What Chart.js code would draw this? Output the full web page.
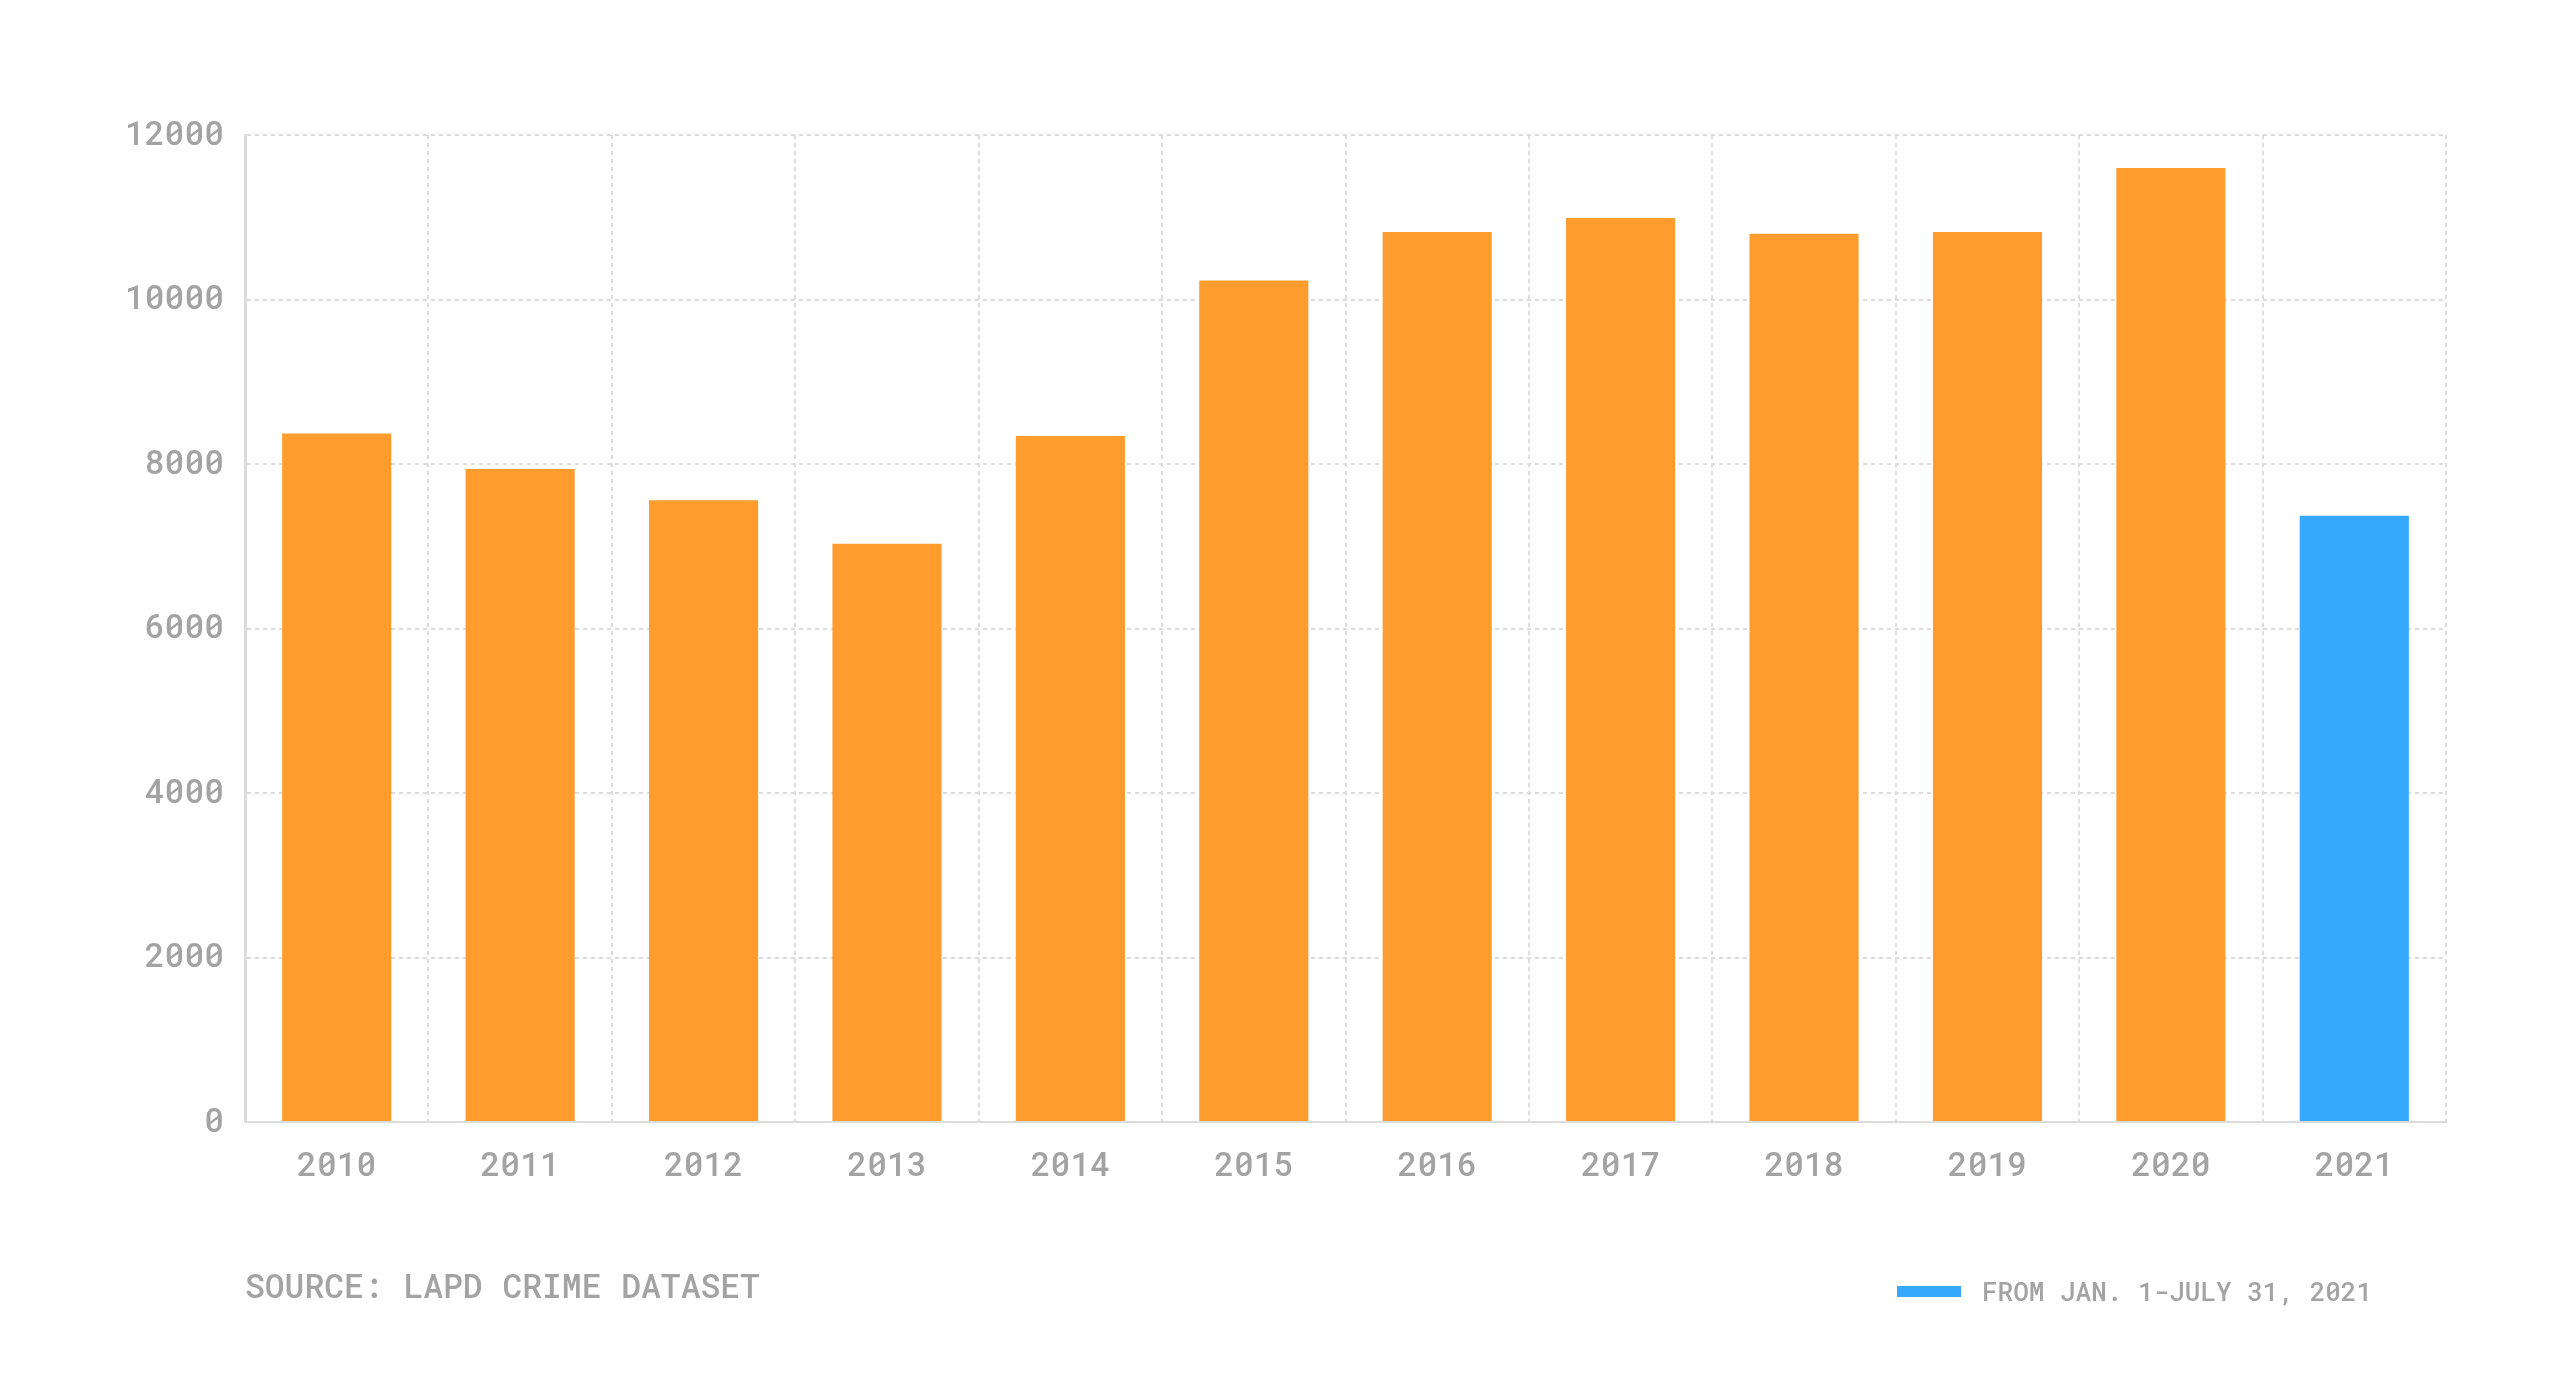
<!DOCTYPE html>
<html>
<head>
<meta charset="utf-8">
<title>LAPD crimes by year</title>
<script src="https://cdn.jsdelivr.net/npm/chart.js@4.4.0/dist/chart.umd.min.js"></script>
<style>
  html, body { margin: 0; padding: 0; background: #fff; }
  #wrap { position: relative; width: 2560px; height: 1393px; }
  .note {
    position: absolute;
    font-family: "Roboto Mono", "DejaVu Sans Mono", monospace;
    font-weight: 500;
    color: #a3a3a3;
    white-space: nowrap;
  }
  #source { left: 245px; top: 1263px; font-size: 33px; }
  #legend { left: 1897px; top: 1274px; font-size: 26px; display: flex; align-items: center; }
  #legend span.box { display: inline-block; width: 64px; height: 11px; background: #36a9fe; margin-right: 21px; }
</style>
</head>
<body>
<div id="wrap">
  <canvas id="chart"></canvas>
  <div class="note" id="source">SOURCE: LAPD CRIME DATASET</div>
  <div class="note" id="legend"><span class="box"></span>FROM JAN. 1-JULY 31, 2021</div>
</div>
<script>
const years = ["2010", "2011", "2012", "2013", "2014", "2015", "2016", "2017", "2018", "2019", "2020", "2021"];
const counts = [8370, 7940, 7560, 7030, 8340, 10230, 10820, 10990, 10800, 10820, 11600, 7370];
const barColors = ["#fe9c2e", "#fe9c2e", "#fe9c2e", "#fe9c2e", "#fe9c2e", "#fe9c2e",
  "#fe9c2e", "#fe9c2e", "#fe9c2e", "#fe9c2e", "#fe9c2e", "#36a9fe"];
const yMax = 12000;
const yStep = 2000;

const fontFamily = "'Roboto Mono', 'DejaVu Sans Mono', monospace";
const gridColor = "#dcdcdc";
const textColor = "#a3a3a3";

const ctx = document.getElementById("chart").getContext("2d");
new Chart(ctx, {
  type: "bar",
  data: {
    labels: years,
    datasets: [
      {
        label: "Crimes",
        data: counts,
        backgroundColor: barColors,
        barPercentage: 0.595,
        categoryPercentage: 1,
      },
    ],
  },
  options: {
    responsive: true,
    maintainAspectRatio: false,
    animation: false,
    layout: {
      padding: { left: 0, right: 114, top: 135, bottom: 211 },
    },
    plugins: {
      legend: { display: false },
      tooltip: { enabled: false },
    },
    scales: {
      x: {
        afterFit: (s) => { s.height = 60; },
        grid: { color: gridColor, lineWidth: 2, drawTicks: false },
        // in v4 border.dash styles the grid lines, the axis line stays solid
        border: { display: true, color: gridColor, width: 2, dash: [4, 4] },
        ticks: {
          color: textColor,
          padding: 24,
          font: { family: fontFamily, size: 33, weight: "500" },
        },
      },
      y: {
        min: 0,
        max: yMax,
        afterFit: (s) => { s.width = 245; },
        grid: { color: gridColor, lineWidth: 2, drawTicks: false },
        border: { display: true, color: gridColor, width: 3, dash: [4, 4] },
        ticks: {
          stepSize: yStep,
          color: textColor,
          padding: 21,
          font: { family: fontFamily, size: 33, weight: "500" },
          callback: (v) => String(v),
        },
      },
    },
  },
});
</script>
</body>
</html>
